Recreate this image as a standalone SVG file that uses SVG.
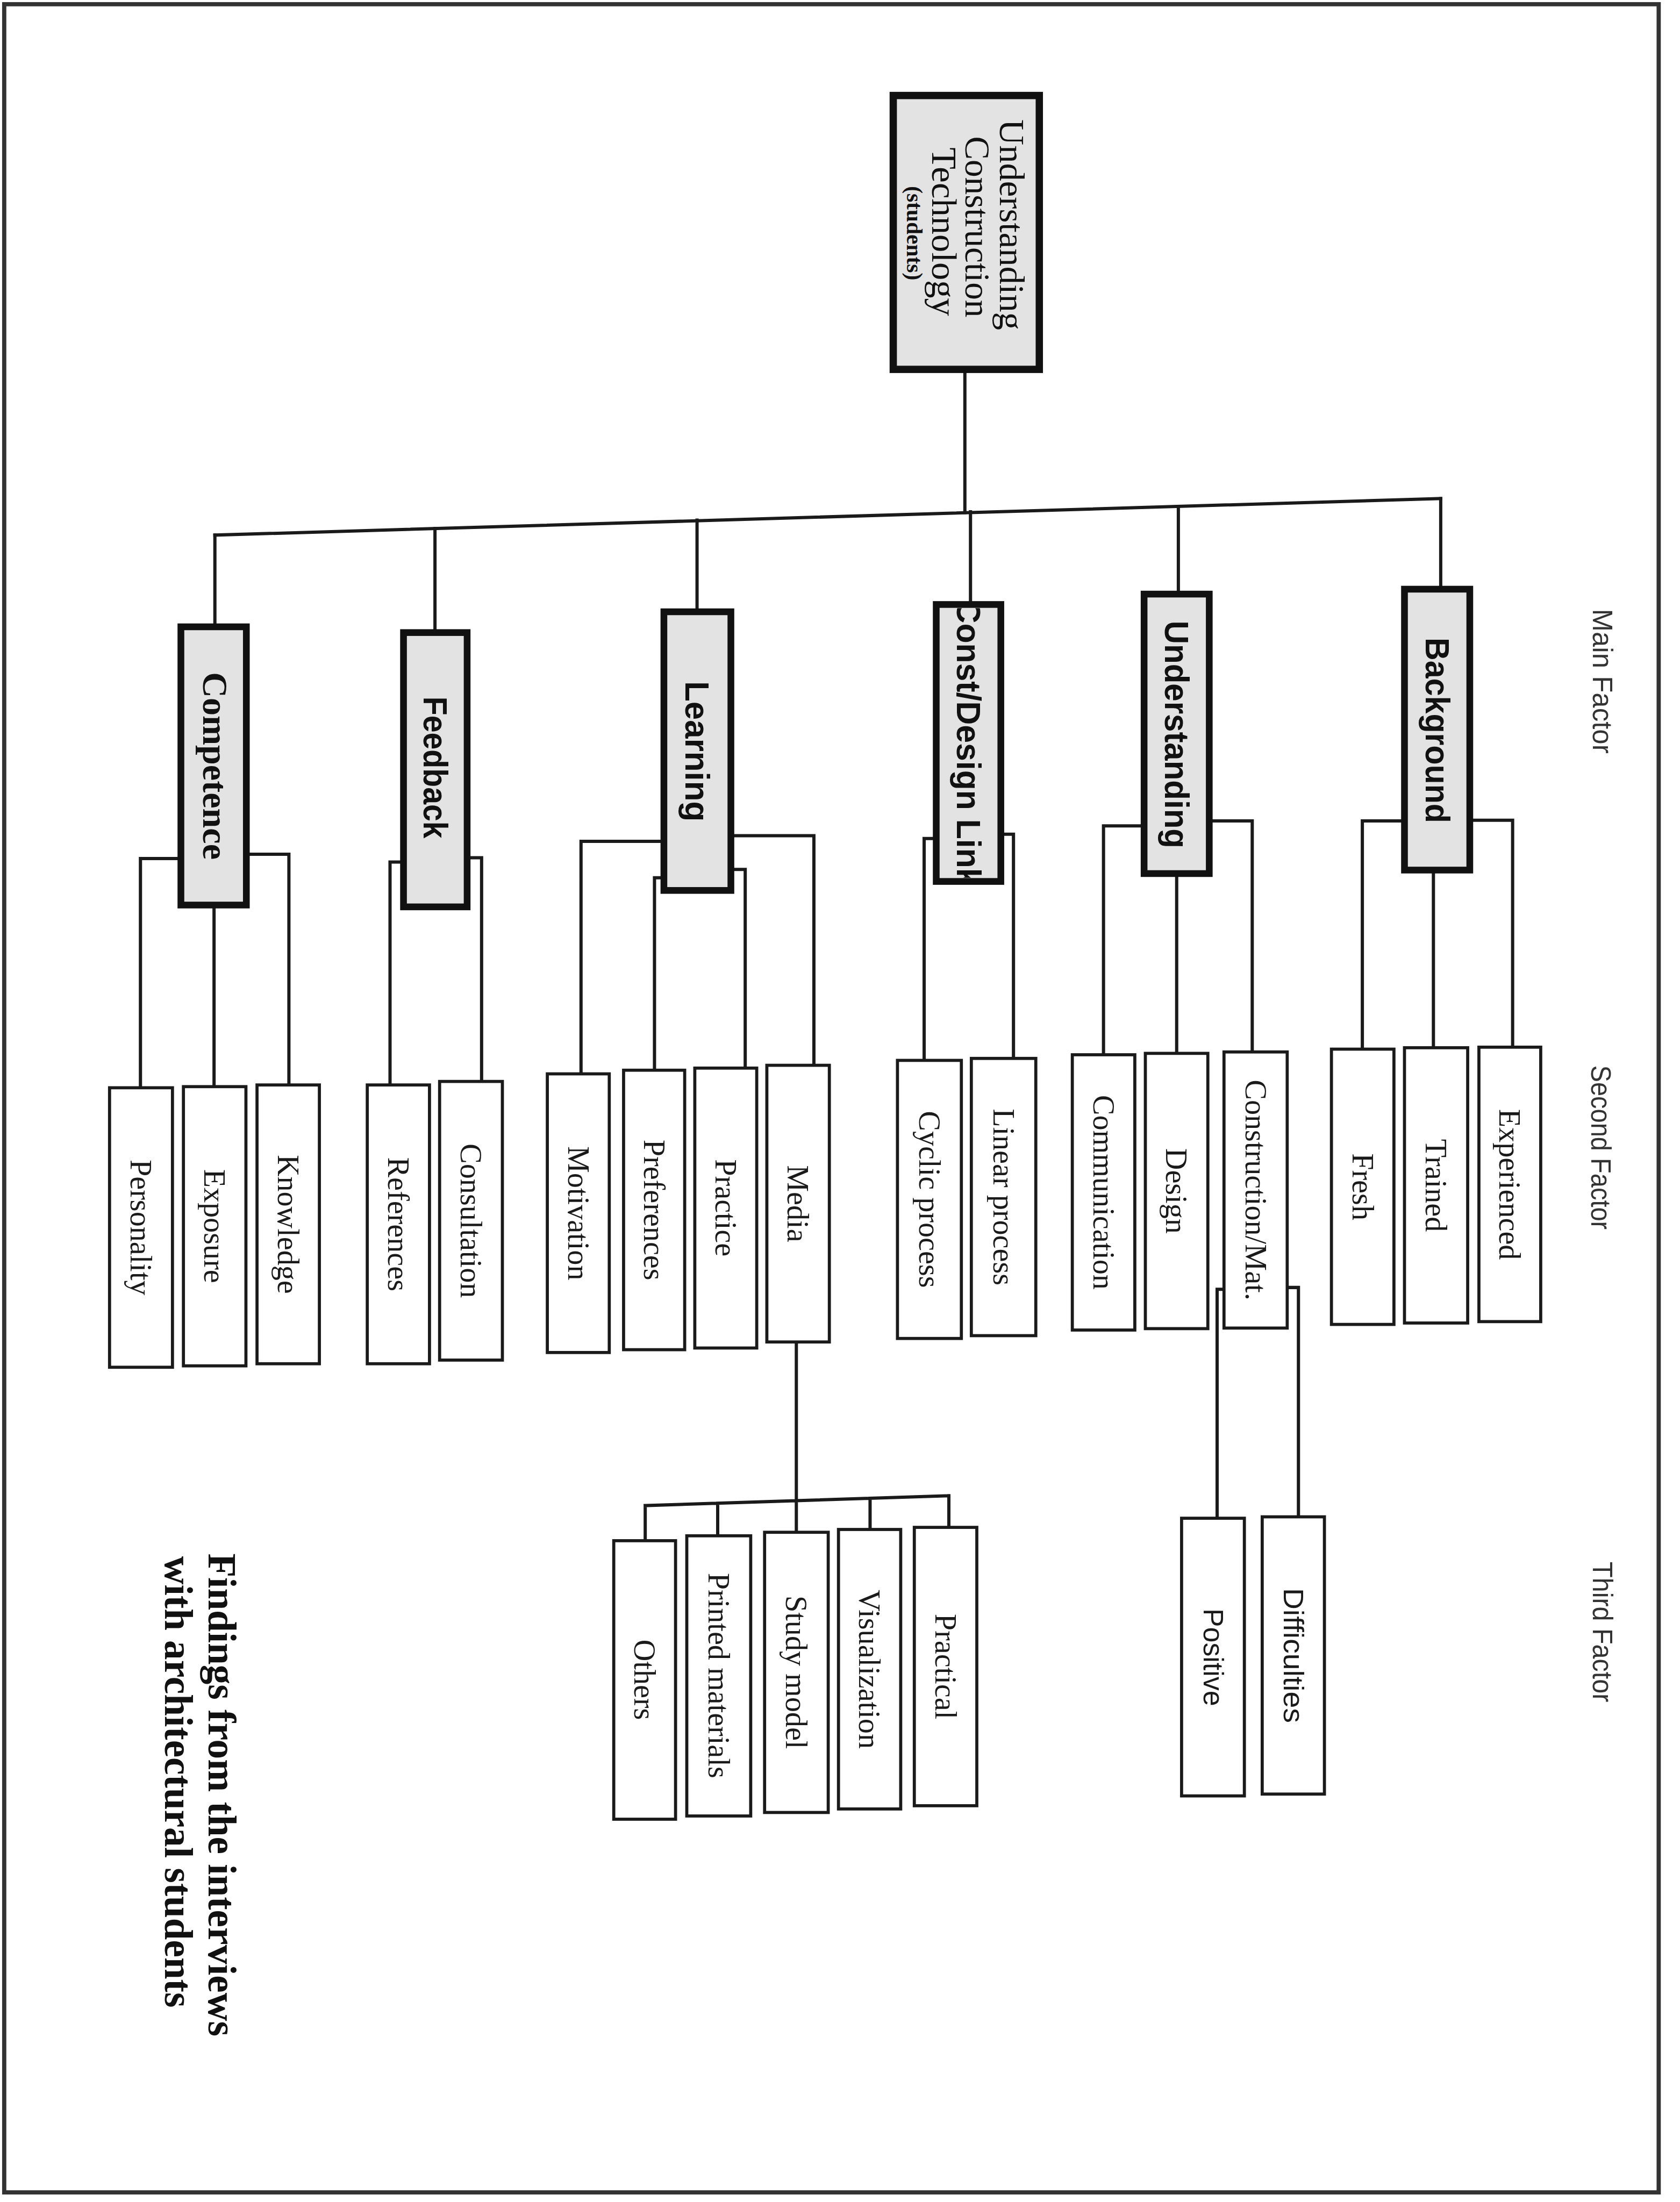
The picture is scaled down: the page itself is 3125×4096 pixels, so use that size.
<svg xmlns="http://www.w3.org/2000/svg" width="3125" height="4096" viewBox="0 0 3125 4096">
<defs>
<style>
.conn{fill:none;stroke:#1a1a1a;stroke-width:2.3;stroke-linecap:square;stroke-linejoin:miter}
.main{fill:#e3e3e3;stroke:#111;stroke-width:4.8}
.top{fill:#e3e3e3;stroke:#111;stroke-width:5.2}
.leaf{fill:#fff;stroke:#1a1a1a;stroke-width:2.2}
.lbl{font-family:"Liberation Serif","Times New Roman",serif;font-size:21.5px;fill:#1a1a1a;text-anchor:middle;dominant-baseline:central}
.lbls{font-family:"Liberation Sans Narrow","Liberation Sans",Arial,sans-serif;font-size:19.5px;fill:#1a1a1a;text-anchor:middle;dominant-baseline:central}
.mf{font-family:"Liberation Sans Narrow","Liberation Sans",Arial,sans-serif;font-weight:bold;font-size:24px;fill:#111;text-anchor:middle;dominant-baseline:central}
.mfs{font-family:"Liberation Serif","Times New Roman",serif;font-weight:bold;font-size:25px;fill:#111;text-anchor:middle;dominant-baseline:central}
.tt{font-family:"Liberation Serif","Times New Roman",serif;font-size:25px;fill:#111;text-anchor:middle;dominant-baseline:central}
.side{font-family:"Liberation Sans Narrow","Liberation Sans",Arial,sans-serif;font-size:20px;fill:#333;text-anchor:middle;dominant-baseline:central}
.cap{font-family:"Liberation Serif","Times New Roman",serif;font-weight:bold;font-size:28px;fill:#111;text-anchor:start;dominant-baseline:central}
</style>
<clipPath id="clipCDL"><rect x="669" y="433" width="41" height="192"/></clipPath>
</defs>
<rect width="3125" height="4096" fill="#fff"/>
<g transform="scale(2.6125)">
<rect id="frame" x="3" y="3" width="1178" height="1558" fill="none" stroke="#333" stroke-width="3"/>

<g id="connectors">
<path class="conn" d="M687,263 V365"/>
<path class="conn" d="M153,381 L1025.8,355"/>
<path class="conn" d="M1025.8,355 V419.5 M839,360.6 V423 M691,364.4 V430.4 M496.3,370.3 V435.6 M309.7,376.3 V450.4 M153,381 V446.3"/>
<path class="conn" d="M1000,584.5 H970 V747 M1046.5,584 H1077 V745.6 M1020.6,619.5 V746"/>
<path class="conn" d="M814.6,588 H785.7 V751 M861,584.5 H891.6 V749 M837.8,622 V750"/>
<path class="conn" d="M666.6,597 H658 V755 M712.6,594 H721.6 V753.6"/>
<path class="conn" d="M472.7,599 H413.7 V764.6 M472.7,625 H466 V762 M520.4,619 H530.6 V760.5 M520.4,595 H579.5 V758.5"/>
<path class="conn" d="M287.3,613.8 H277.7 V772.5 M332.6,610.7 H342.9 V770"/>
<path class="conn" d="M128.8,611.3 H100 V774.5 M175.4,608.2 H205.7 V772.5 M152.4,644.4 V773.7"/>
<path class="conn" d="M871.5,918 H866.6 V1081 M916.5,916.7 H924.5 V1080"/>
<path class="conn" d="M567,955.5 V1068.5 M459.4,1072 L675.6,1065 M459.4,1072 V1097 M511,1070.3 V1093.5 M567,1068.5 V1091 M619.5,1066.8 V1089 M675.6,1065 V1087.5"/>
</g>

<g id="node-root">
<rect class="top" x="636" y="68" width="104" height="195"/>
<text class="tt" transform="translate(720.5,160) rotate(90)" textLength="150" lengthAdjust="spacingAndGlyphs">Understanding</text>
<text class="tt" transform="translate(696,161.5) rotate(90)" textLength="129" lengthAdjust="spacingAndGlyphs">Construction</text>
<text class="tt" transform="translate(672,165) rotate(90)" textLength="120" lengthAdjust="spacingAndGlyphs">Technology</text>
<text class="tt" style="font-size:16px;font-weight:bold" transform="translate(651,166) rotate(90)" textLength="67" lengthAdjust="spacingAndGlyphs">(students)</text>
</g>

<g id="node-background">
<rect class="main" x="1000" y="419.5" width="46.5" height="200"/>
<text class="mf" transform="translate(1023.5,520) rotate(90)" textLength="132" lengthAdjust="spacingAndGlyphs">Background</text>
</g>
<g id="node-understanding">
<rect class="main" x="814.6" y="423" width="46.4" height="199"/>
<text class="mf" transform="translate(837.8,523) rotate(90)" textLength="162" lengthAdjust="spacingAndGlyphs">Understanding</text>
</g>
<g id="node-constdesign">
<rect x="666.6" y="430.4" width="46" height="197.2" fill="#e3e3e3"/>
<g clip-path="url(#clipCDL)"><text class="mf" transform="translate(689.6,529) rotate(90)" textLength="204" lengthAdjust="spacingAndGlyphs">Const/Design Link</text></g>
<rect x="666.6" y="430.4" width="46" height="197.2" fill="none" stroke="#111" stroke-width="4.8"/>
</g>
<g id="node-learning">
<rect class="main" x="472.7" y="435.6" width="47.7" height="198.4"/>
<text class="mf" transform="translate(496.5,535) rotate(90)" textLength="100" lengthAdjust="spacingAndGlyphs">Learning</text>
</g>
<g id="node-feedback">
<rect class="main" x="287.3" y="450.4" width="45.3" height="195.3"/>
<text class="mf" transform="translate(310,546.5) rotate(90)" textLength="101" lengthAdjust="spacingAndGlyphs">Feedback</text>
</g>
<g id="node-competence">
<rect class="main" x="128.8" y="446.3" width="46.6" height="198.1"/>
<text class="mfs" transform="translate(153,545.3) rotate(90)" textLength="133.5" lengthAdjust="spacingAndGlyphs">Competence</text>
</g>

<g id="node-experienced"><rect class="leaf" x="1053" y="745.6" width="44" height="195.4"/><text class="lbl" transform="translate(1075,843.3) rotate(90)">Experienced</text></g>
<g id="node-trained"><rect class="leaf" x="1000" y="746" width="45" height="196"/><text class="lbl" transform="translate(1022.5,844) rotate(90)">Trained</text></g>
<g id="node-fresh"><rect class="leaf" x="948" y="747" width="44.5" height="196"/><text class="lbl" transform="translate(970.2,845) rotate(90)">Fresh</text></g>

<g id="node-communication"><rect class="leaf" x="763.5" y="751" width="44.5" height="196"/><text class="lbl" transform="translate(785.7,849) rotate(90)">Communication</text></g>
<g id="node-design"><rect class="leaf" x="815.5" y="750" width="44.5" height="196"/><text class="lbl" transform="translate(837.7,848) rotate(90)">Design</text></g>
<g id="node-constructionmat"><rect class="leaf" x="871.5" y="749" width="45" height="196.6"/><text class="lbl" transform="translate(894,847.3) rotate(90)">Construction/Mat.</text></g>

<g id="node-cyclic"><rect class="leaf" x="639" y="755" width="45.5" height="198"/><text class="lbl" transform="translate(661.7,854) rotate(90)">Cyclic process</text></g>
<g id="node-linear"><rect class="leaf" x="691.6" y="753.6" width="45.9" height="197.4"/><text class="lbl" transform="translate(714.5,852.3) rotate(90)">Linear process</text></g>

<g id="node-media"><rect class="leaf" x="546" y="758.5" width="44.5" height="197"/><text class="lbl" transform="translate(568.2,857) rotate(90)">Media</text></g>
<g id="node-practice"><rect class="leaf" x="494.7" y="760.5" width="44.1" height="199.3"/><text class="lbl" transform="translate(516.7,860) rotate(90)">Practice</text></g>
<g id="node-preferences"><rect class="leaf" x="444" y="762" width="43.5" height="199"/><text class="lbl" transform="translate(465.7,861.5) rotate(90)">Preferences</text></g>
<g id="node-motivation"><rect class="leaf" x="389.7" y="764.6" width="44.1" height="198.4"/><text class="lbl" transform="translate(411.7,863.8) rotate(90)">Motivation</text></g>

<g id="node-consultation"><rect class="leaf" x="313" y="770" width="44.7" height="198.4"/><text class="lbl" transform="translate(335.3,869.2) rotate(90)">Consultation</text></g>
<g id="node-references"><rect class="leaf" x="261.5" y="772.5" width="44.3" height="198.5"/><text class="lbl" transform="translate(283.6,871.7) rotate(90)">References</text></g>

<g id="node-knowledge"><rect class="leaf" x="183" y="772.5" width="44.4" height="198.5"/><text class="lbl" transform="translate(205.2,871.7) rotate(90)">Knowledge</text></g>
<g id="node-exposure"><rect class="leaf" x="130.6" y="773.7" width="44.5" height="198.8"/><text class="lbl" transform="translate(152.8,873) rotate(90)">Exposure</text></g>
<g id="node-personality"><rect class="leaf" x="78" y="774.5" width="44.8" height="199"/><text class="lbl" transform="translate(100.4,874) rotate(90)">Personality</text></g>

<g id="node-difficulties"><rect class="leaf" x="898.7" y="1080" width="44.3" height="197.4"/><text class="lbls" transform="translate(920.8,1178.7) rotate(90)" textLength="96" lengthAdjust="spacingAndGlyphs">Difficulties</text></g>
<g id="node-positive"><rect class="leaf" x="841.3" y="1081" width="44.7" height="197.7"/><text class="lbls" transform="translate(863.6,1180) rotate(90)" textLength="69.5" lengthAdjust="spacingAndGlyphs">Positive</text></g>

<g id="node-practical"><rect class="leaf" x="651" y="1087.5" width="44.5" height="198.2"/><text class="lbl" transform="translate(673.2,1186.6) rotate(90)">Practical</text></g>
<g id="node-visualization"><rect class="leaf" x="597" y="1089" width="44.3" height="199"/><text class="lbl" transform="translate(619.1,1188.5) rotate(90)">Visualization</text></g>
<g id="node-studymodel"><rect class="leaf" x="544.4" y="1091" width="45.3" height="199.5"/><text class="lbl" transform="translate(567,1190.7) rotate(90)">Study model</text></g>
<g id="node-printed"><rect class="leaf" x="489" y="1093.5" width="45.5" height="199.5"/><text class="lbl" transform="translate(511.7,1193) rotate(90)">Printed materials</text></g>
<g id="node-others"><rect class="leaf" x="437" y="1097" width="44" height="198.3"/><text class="lbl" transform="translate(459,1196) rotate(90)">Others</text></g>

<g id="levels">
<text class="side" transform="translate(1141,485) rotate(90)" textLength="103" lengthAdjust="spacingAndGlyphs">Main Factor</text>
<text class="side" transform="translate(1140,817) rotate(90)" textLength="117" lengthAdjust="spacingAndGlyphs">Second Factor</text>
<text class="side" transform="translate(1141,1162) rotate(90)" textLength="100" lengthAdjust="spacingAndGlyphs">Third Factor</text>
</g>

<g id="caption">
<text class="cap" transform="translate(158,1106) rotate(90)">Findings from the interviews</text>
<text class="cap" transform="translate(127,1108) rotate(90)">with architectural students</text>
</g>
</g>
</svg>
